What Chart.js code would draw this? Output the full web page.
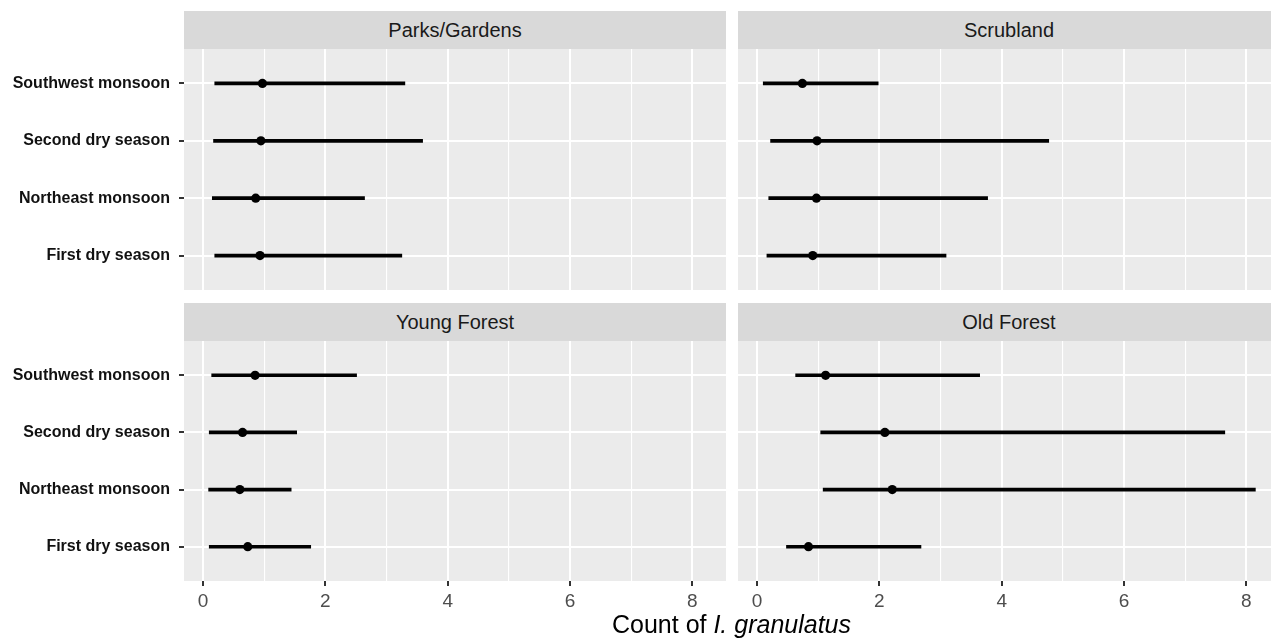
<!DOCTYPE html>
<html><head><meta charset="utf-8">
<script src="https://cdn.jsdelivr.net/npm/chart.js@4.4.0/dist/chart.umd.min.js"></script>
<style>
html,body{margin:0;padding:0;width:1271px;height:638px;overflow:hidden;background:#fff;}
.strip{position:absolute;background:#D9D9D9;color:#1A1A1A;font:20px "Liberation Sans",Arial,sans-serif;display:flex;align-items:center;justify-content:center;}
canvas{position:absolute;}
#xtitle{position:absolute;left:184px;width:1095px;top:612px;text-align:center;font:25px/1 "Liberation Sans",Arial,sans-serif;color:#000;white-space:nowrap;}
</style></head><body>
<div class="strip" id="s0" style="left:184px;top:11px;width:542px;height:38px"></div>
<div class="strip" id="s1" style="left:738px;top:11px;width:542px;height:38px"></div>
<div class="strip" id="s2" style="left:184px;top:303px;width:542px;height:38px"></div>
<div class="strip" id="s3" style="left:738px;top:303px;width:542px;height:38px"></div>
<canvas id="c0" width="726" height="241" style="left:0px;top:49px"></canvas>
<canvas id="c1" width="542" height="241" style="left:738px;top:49px"></canvas>
<canvas id="c2" width="726" height="280" style="left:0px;top:341px"></canvas>
<canvas id="c3" width="542" height="280" style="left:738px;top:341px"></canvas>
<div id="xtitle">Count of <i>I. granulatus</i></div>
<script>
// ---- data ----
const seasons = ['Southwest monsoon', 'Second dry season', 'Northeast monsoon', 'First dry season'];
const habitats = ['Parks/Gardens', 'Scrubland', 'Young Forest', 'Old Forest'];
const xTickLabels = [0, 2, 4, 6, 8];
const xGridValues = [0, 1, 2, 3, 4, 5, 6, 7, 8];

const parksMean = [0.97, 0.945, 0.86, 0.93];
const parksLow  = [0.19, 0.17, 0.15, 0.19];
const parksHigh = [3.30, 3.59, 2.64, 3.25];

const scrubMean = [0.74, 0.98, 0.97, 0.91];
const scrubLow  = [0.10, 0.22, 0.19, 0.16];
const scrubHigh = [1.98, 4.77, 3.77, 3.09];

const youngMean = [0.85, 0.645, 0.60, 0.73];
const youngLow  = [0.14, 0.10, 0.09, 0.10];
const youngHigh = [2.51, 1.53, 1.44, 1.76];

const oldMean = [1.12, 2.09, 2.21, 0.84];
const oldLow  = [0.63, 1.04, 1.08, 0.48];
const oldHigh = [3.64, 7.65, 8.15, 2.68];

// shared x range with 5% expansion (ggplot default)
const allLow = parksLow.concat(scrubLow, youngLow, oldLow);
const allHigh = parksHigh.concat(scrubHigh, youngHigh, oldHigh);
const dLo = Math.min(...allLow), dHi = Math.max(...allHigh);
const pad = 0.05 * (dHi - dLo);
const X_MIN = dLo - pad, X_MAX = dHi + pad;

const FONT = '"Liberation Sans", Arial, sans-serif';

const panelBg = {
  id: 'panelBg',
  beforeDraw(chart) {
    const a = chart.chartArea, c = chart.ctx;
    c.save(); c.fillStyle = '#EBEBEB';
    c.fillRect(a.left, a.top, a.right - a.left, a.bottom - a.top);
    c.restore();
  }
};

function makePanel(canvasId, stripId, title, mean, low, high, showY, showX) {
  document.getElementById(stripId).textContent = title;
  new Chart(document.getElementById(canvasId), {
    type: 'bar',
    data: {
      datasets: [
        {
          type: 'scatter',
          data: mean.map((m, i) => ({ x: m, y: i + 1 })),
          pointRadius: 4.6,
          pointBackgroundColor: '#000',
          pointBorderWidth: 0,
          order: 0
        },
        {
          type: 'bar',
          indexAxis: 'y',
          data: low.map((l, i) => ({ y: i + 1, x: [l, high[i]] })),
          backgroundColor: '#000',
          borderWidth: 0,
          barThickness: 3,
          order: 1
        }
      ]
    },
    options: {
      responsive: false,
      animation: false,
      indexAxis: 'y',
      layout: { padding: 0, autoPadding: false },
      plugins: { legend: { display: false }, tooltip: { enabled: false } },
      scales: {
        x: {
          type: 'linear',
          offset: false,
          bounds: 'data',
          min: X_MIN,
          max: X_MAX,
          afterBuildTicks: s => { s.ticks = xGridValues.map(v => ({ value: v })); },
          afterFit: s => { s.height = showX ? 40 : 0; s.paddingLeft = 0; s.paddingRight = 0; },
          border: { display: false },
          grid: {
            offset: false,
            color: '#FFFFFF',
            lineWidth: ctx => (ctx.tick && xTickLabels.includes(ctx.tick.value)) ? 2 : 1.1,
            drawTicks: showX,
            tickLength: 5,
            tickWidth: 2,
            tickColor: ctx => (ctx.tick && xTickLabels.includes(ctx.tick.value)) ? '#333333' : 'rgba(0,0,0,0)'
          },
          ticks: {
            display: showX,
            autoSkip: false,
            maxRotation: 0,
            padding: 4,
            color: '#4D4D4D',
            font: { family: FONT, size: 19 },
            callback: v => xTickLabels.includes(v) ? String(v) : ''
          }
        },
        y: {
          type: 'linear',
          offset: false,
          reverse: true,
          bounds: 'data',
          min: 0.4,
          max: 4.6,
          afterBuildTicks: s => { s.ticks = seasons.map((_, i) => ({ value: i + 1 })); },
          afterFit: s => { s.width = showY ? 184 : 0; s.paddingTop = 0; s.paddingBottom = 0; },
          border: { display: false },
          grid: {
            offset: false,
            color: '#FFFFFF',
            lineWidth: 2,
            drawTicks: showY,
            tickLength: 5,
            tickWidth: 2,
            tickColor: '#333333'
          },
          ticks: {
            display: showY,
            autoSkip: false,
            padding: 9,
            color: '#111111',
            font: { family: FONT, size: 16, weight: 'bold' },
            callback: v => seasons[v - 1]
          }
        }
      }
    },
    plugins: [panelBg]
  });
}

makePanel('c0', 's0', habitats[0], parksMean, parksLow, parksHigh, true, false);
makePanel('c1', 's1', habitats[1], scrubMean, scrubLow, scrubHigh, false, false);
makePanel('c2', 's2', habitats[2], youngMean, youngLow, youngHigh, true, true);
makePanel('c3', 's3', habitats[3], oldMean, oldLow, oldHigh, false, true);
</script>
</body></html>
